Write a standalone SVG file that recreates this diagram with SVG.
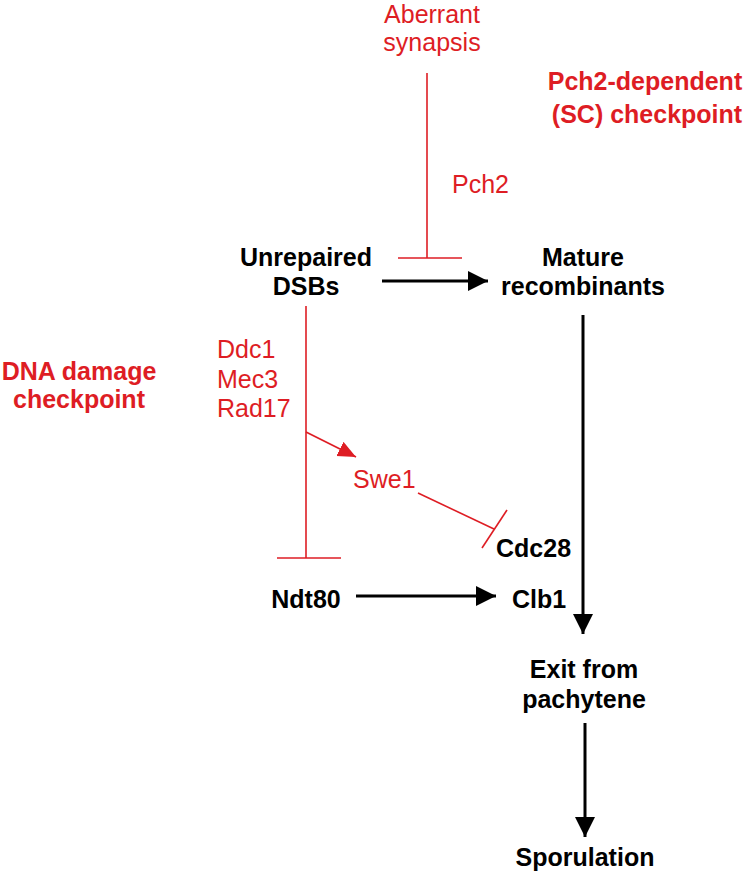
<svg xmlns="http://www.w3.org/2000/svg" width="747" height="875" viewBox="0 0 747 875">
<style>
text{font-family:"Liberation Sans",Arial,sans-serif;font-size:25px}
.r{fill:#de1d24}
.b{font-weight:bold}
.k{fill:#000}
.rl{stroke:#de1d24;stroke-width:1.6;fill:none}
.kl{stroke:#000;stroke-width:3;fill:none}
</style>
<defs>
<marker id="ka" markerUnits="userSpaceOnUse" markerWidth="22" markerHeight="22" refX="20" refY="10" orient="auto" viewBox="0 0 22 22">
<path d="M0,0 L20,10 L0,20 Z" fill="#000"/>
</marker>
<marker id="ra" markerUnits="userSpaceOnUse" markerWidth="20" markerHeight="20" refX="18" refY="8" orient="auto" viewBox="0 0 20 20">
<path d="M0,0 L18,8 L0,16 Z" fill="#de1d24"/>
</marker>
</defs>
<rect width="747" height="875" fill="#fff"/>
<g id="connectors">
<line class="rl" x1="427" y1="73" x2="427" y2="258"/>
<line class="rl" x1="398" y1="258" x2="462" y2="258"/>
<line class="kl" x1="382" y1="281" x2="488" y2="281" marker-end="url(#ka)"/>
<line class="kl" x1="583" y1="315" x2="583" y2="634" marker-end="url(#ka)"/>
<line class="rl" x1="306" y1="306" x2="306" y2="558"/>
<line class="rl" x1="277" y1="558" x2="341" y2="558"/>
<line class="rl" x1="306" y1="432" x2="356" y2="457" marker-end="url(#ra)"/>
<line class="rl" x1="418" y1="493" x2="494" y2="529"/>
<line class="rl" x1="507" y1="510" x2="482" y2="548"/>
<line class="kl" x1="356" y1="596" x2="496" y2="596" marker-end="url(#ka)"/>
<line class="kl" x1="585" y1="723" x2="585" y2="837" marker-end="url(#ka)"/>
</g>
<g id="aberrant"><text class="r" x="432" y="23" text-anchor="middle">Aberrant</text><text class="r" x="432" y="51" text-anchor="middle">synapsis</text></g>
<g id="pch2"><text class="r" x="452" y="193">Pch2</text></g>
<g id="sc-checkpoint"><text class="r b" x="645" y="90" text-anchor="middle">Pch2-dependent</text><text class="r b" x="647" y="123" text-anchor="middle">(SC) checkpoint</text></g>
<g id="dsbs"><text class="k b" x="306" y="266" text-anchor="middle">Unrepaired</text><text class="k b" x="306" y="295" text-anchor="middle">DSBs</text></g>
<g id="mature"><text class="k b" x="583" y="266" text-anchor="middle">Mature</text><text class="k b" x="583" y="295" text-anchor="middle">recombinants</text></g>
<g id="ddc1"><text class="r" x="217" y="358">Ddc1</text><text class="r" x="217" y="388">Mec3</text><text class="r" x="217" y="417">Rad17</text></g>
<g id="dna-checkpoint"><text class="r b" x="79" y="380" text-anchor="middle">DNA damage</text><text class="r b" x="79" y="408" text-anchor="middle">checkpoint</text></g>
<g id="swe1"><text class="r" x="353" y="488">Swe1</text></g>
<g id="cdc28"><text class="k b" x="496" y="557">Cdc28</text></g>
<g id="ndt80"><text class="k b" x="306" y="608" text-anchor="middle">Ndt80</text></g>
<g id="clb1"><text class="k b" x="512" y="608">Clb1</text></g>
<g id="exit"><text class="k b" x="584" y="678" text-anchor="middle">Exit from</text><text class="k b" x="584" y="708" text-anchor="middle">pachytene</text></g>
<g id="sporulation"><text class="k b" x="585" y="866" text-anchor="middle">Sporulation</text></g>
</svg>
